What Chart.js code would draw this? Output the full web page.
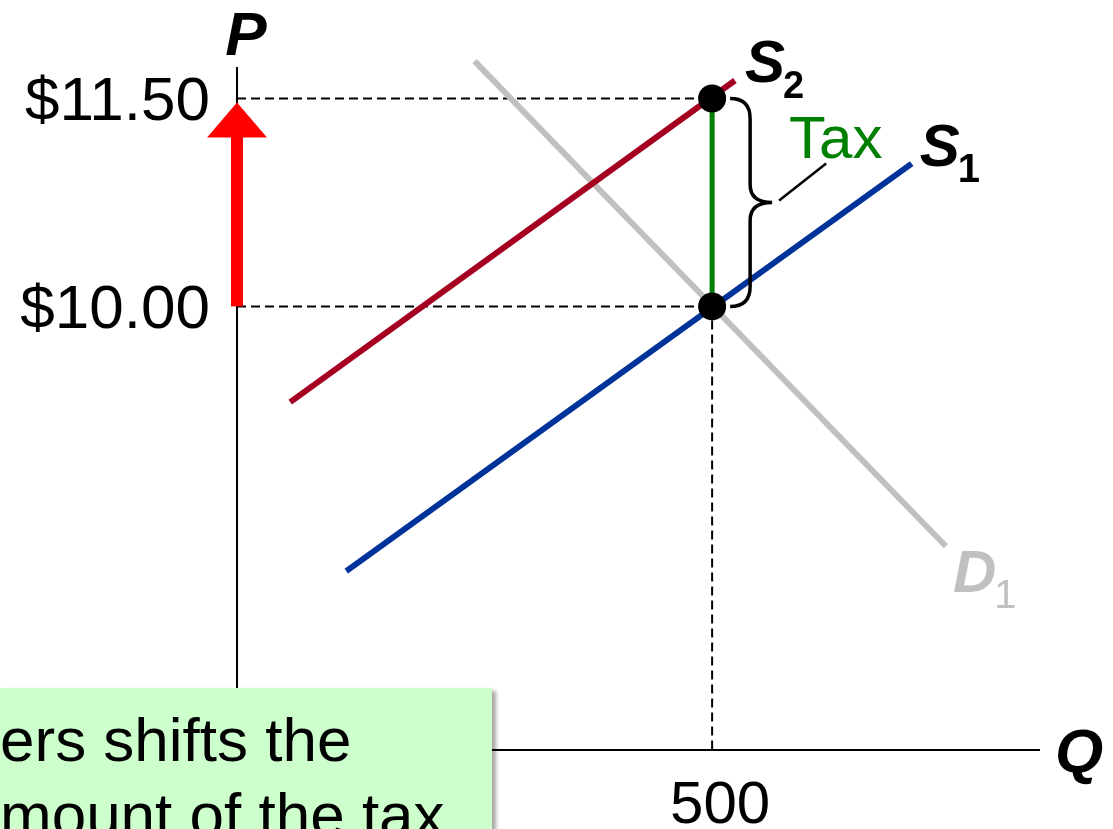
<!DOCTYPE html>
<html>
<head>
<meta charset="utf-8">
<script src="https://cdn.jsdelivr.net/npm/chart.js@4"></script>
<style>
  html, body { margin:0; padding:0; background:#fff; overflow:hidden; }
  #wrap { position:relative; width:1113px; height:829px; }
  #note {
    position:absolute; left:0; top:688px; width:492px; height:160px;
    background:#CCFFCC; box-shadow:4px 3px 4px rgba(0,0,0,0.35);
    font-family:"Liberation Sans", Arial, sans-serif; font-size:62px; line-height:75px;
    color:#000; white-space:nowrap; overflow:hidden;
  }
  #note div { position:absolute; left:0; top:14px; }
</style>
</head>
<body>
<div id="wrap">
  <canvas id="c" width="1113" height="829"></canvas>
  <div id="note"><div>ers shifts the<br>mount of the tax</div></div>
</div>
<script>
// ---- DATA ----
const qTicks = [500];
const pTicks = [10, 11.5];
const qRange = [0, 844];
const pRange = [6.8, 11.72];

const s1Q = [115, 710];
const s1P = [8.09, 11.03];
const s2Q = [56, 524];
const s2P = [9.31, 11.63];
const d1Q = [250, 746];
const d1P = [11.77, 8.27];

const eqQ = [500, 500];
const eqP = [11.5, 10];   // with tax, without tax
const taxQ = [500, 500];
const taxP = [10, 11.5];

const pts = (qs, ps) => qs.map((q, i) => ({x:q, y:ps[i]}));
const FONT = '"Liberation Sans", Arial, sans-serif';

// ---- EXTRA DRAWING (arrow, brace, labels) ----
const extras = {
  id:'extras',
  afterDatasetsDraw(chart) {
    const {ctx, chartArea:a, scales:{x, y}} = chart;
    ctx.save();

    // red arrow on the price axis: from $10.00 up to $11.50
    const ax = x.getPixelForValue(0);
    const yFrom = y.getPixelForValue(taxP[0]);
    const yTip = y.getPixelForValue(taxP[1]) + 4;
    ctx.fillStyle = '#FF0000';
    ctx.fillRect(ax - 6, yTip + 34, 12, yFrom - yTip - 34);
    ctx.beginPath();
    ctx.moveTo(ax, yTip);
    ctx.lineTo(ax + 30, yTip + 35);
    ctx.lineTo(ax - 30, yTip + 35);
    ctx.closePath();
    ctx.fill();

    // brace beside the tax segment
    const bx = x.getPixelForValue(taxQ[0]) + 18;
    const top = y.getPixelForValue(taxP[1]);
    const bot = y.getPixelForValue(taxP[0]);
    const mid = (top + bot) / 2;
    ctx.strokeStyle = '#000';
    ctx.lineWidth = 3.5;
    ctx.beginPath();
    ctx.moveTo(bx, top);
    ctx.quadraticCurveTo(bx + 20, top, bx + 20, top + 20);
    ctx.lineTo(bx + 20, mid - 18);
    ctx.quadraticCurveTo(bx + 20, mid, bx + 42, mid);
    ctx.quadraticCurveTo(bx + 20, mid, bx + 20, mid + 18);
    ctx.lineTo(bx + 20, bot - 20);
    ctx.quadraticCurveTo(bx + 20, bot, bx, bot);
    ctx.stroke();
    // leader to "Tax"
    ctx.lineWidth = 2.5;
    ctx.beginPath();
    ctx.moveTo(bx + 49, mid - 2);
    ctx.lineTo(bx + 96, mid - 39);
    ctx.stroke();

    ctx.textBaseline = 'alphabetic';
    ctx.textAlign = 'left';
    ctx.fillStyle = '#008000';
    ctx.font = '60px ' + FONT;
    ctx.fillText('Tax', bx + 59, top + 60);

    const sub = (main, s, px, py, color, subSize, subWeight) => {
      ctx.fillStyle = color;
      ctx.font = 'italic bold 60px ' + FONT;
      ctx.fillText(main, px, py);
      const w = ctx.measureText(main).width;
      ctx.font = subWeight + ' ' + subSize + 'px ' + FONT;
      ctx.fillText(s, px + w - 2, py + 16);
    };
    sub('S', '2', x.getPixelForValue(s2Q[1]) + 10, y.getPixelForValue(s2P[1]) + 2, '#000', 38, 'bold');
    sub('S', '1', x.getPixelForValue(s1Q[1]) + 8, y.getPixelForValue(s1P[1]) + 2, '#000', 40, 'bold');
    sub('D', '1', x.getPixelForValue(d1Q[1]) + 7, y.getPixelForValue(d1P[1]) + 46, '#C0C0C0', 40, 'normal');

    ctx.fillStyle = '#000';
    ctx.font = 'italic bold 62px ' + FONT;
    ctx.textAlign = 'center';
    ctx.fillText('P', a.left + 9, a.top - 13);
    ctx.textAlign = 'left';
    ctx.fillText('Q', a.right + 16, a.bottom + 22);
    ctx.restore();
  }
};

new Chart(document.getElementById('c'), {
  type:'scatter',
  data:{
    datasets:[
      { label:'Equilibria', data:pts(eqQ, eqP), pointRadius:14, pointHoverRadius:14,
        backgroundColor:'#000', borderWidth:0, order:0, clip:false },
      { label:'Tax', data:pts(taxQ, taxP), showLine:true, borderColor:'#008000', borderWidth:5,
        pointRadius:0, order:1 },
      { label:'S2', data:pts(s2Q, s2P), showLine:true, borderColor:'#A50021', borderWidth:6,
        pointRadius:0, order:2, clip:false },
      { label:'S1', data:pts(s1Q, s1P), showLine:true, borderColor:'#003399', borderWidth:6,
        pointRadius:0, order:2, clip:false },
      { label:'D1', data:pts(d1Q, d1P), showLine:true, borderColor:'#C0C0C0', borderWidth:6,
        pointRadius:0, order:3, clip:false },
      { label:'guide 11.50', data:[{x:qRange[0], y:eqP[0]}, {x:eqQ[0], y:eqP[0]}], showLine:true,
        borderColor:'#000', borderWidth:2, borderDash:[9,5], pointRadius:0, order:4 },
      { label:'guide 10.00', data:[{x:qRange[0], y:eqP[1]}, {x:eqQ[1], y:eqP[1]}], showLine:true,
        borderColor:'#000', borderWidth:2, borderDash:[9,5], pointRadius:0, order:4 },
      { label:'guide 500', data:[{x:eqQ[1], y:eqP[1]}, {x:eqQ[1], y:pRange[0]}], showLine:true,
        borderColor:'#000', borderWidth:2, borderDash:[9,5], pointRadius:0, order:4 }
    ]
  },
  options:{
    responsive:false, animation:false, events:[],
    layout:{ padding:{ top:68, right:74, bottom:0, left:0 } },
    plugins:{ legend:{ display:false }, tooltip:{ enabled:false } },
    scales:{
      x:{
        type:'linear', min:qRange[0], max:qRange[1],
        afterBuildTicks: s => { s.ticks = qTicks.map(v => ({value:v})); },
        afterFit: s => { s.height = 79; },
        grid:{ display:false, drawTicks:false },
        border:{ display:true, color:'#000', width:2 },
        ticks:{ color:'#000', font:{ family:FONT, size:60 }, padding:20, labelOffset:8,
          maxRotation:0, callback: v => String(v) }
      },
      y:{
        type:'linear', min:pRange[0], max:pRange[1],
        afterBuildTicks: s => { s.ticks = pTicks.map(v => ({value:v})); },
        afterFit: s => { s.width = 237; },
        grid:{ display:false, drawTicks:false },
        border:{ display:true, color:'#000', width:2 },
        ticks:{ color:'#000', font:{ family:FONT, size:62 }, padding:27, labelOffset:4,
          callback: v => '$' + Number(v).toFixed(2) }
      }
    }
  },
  plugins:[extras]
});
</script>
</body>
</html>
